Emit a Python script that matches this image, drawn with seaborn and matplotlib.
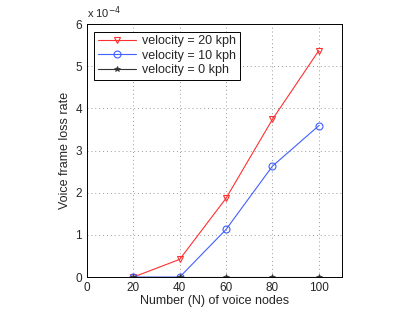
import matplotlib
matplotlib.use("Agg")
import matplotlib.pyplot as plt
import seaborn as sns
from matplotlib.ticker import FuncFormatter

# data (loss rate)
nodes = [20, 40, 60, 80, 100]
v20 = [0.0, 0.42e-4, 1.87e-4, 3.74e-4, 5.37e-4]
v10 = [0.0, 0.0, 1.13e-4, 2.63e-4, 3.59e-4]
v0 = [0.0, 0.0, 0.0, 0.0, 0.0]

sns.set_style("white")
plt.rcParams["font.family"] = ["Liberation Sans", "DejaVu Sans"]

fig = plt.figure(figsize=(4.15, 3.12), dpi=100)
ax = fig.add_axes([0.2096, 0.112, 0.6145, 0.811])

sns.lineplot(x=nodes, y=v20, color="#ff3030", marker="v", markersize=5, mfc="none",
             mec="#ff3030", mew=0.8, lw=0.8, label="velocity = 20 kph", ax=ax)
sns.lineplot(x=nodes, y=v10, color="#4060ff", marker="o", markersize=5, mfc="none",
             mec="#4060ff", mew=0.8, lw=0.8, label="velocity = 10 kph", ax=ax)
sns.lineplot(x=nodes, y=v0, color="#333333", marker="*", markersize=4,
             mec="#333333", mew=0.5, lw=0.8, label="velocity = 0 kph", ax=ax)

ax.set_xlim(0, 110)
ax.set_ylim(0, 6e-4)
ax.set_xticks([0, 20, 40, 60, 80, 100])
ax.set_yticks([i * 1e-4 for i in range(7)])
ax.yaxis.set_major_formatter(FuncFormatter(lambda v, p: f"{v / 1e-4:.0f}"))
ax.text(0.0, 1.012, r"x 10$^{-4}$", transform=ax.transAxes, fontsize=8, va="bottom")

ax.grid(True, ls=(0, (1, 3)), color="#999999", lw=0.7)
ax.tick_params(direction="in", length=3, labelsize=8.5, width=0.6)
for s in ax.spines.values():
    s.set_color("black")
    s.set_linewidth(0.7)

ax.set_xlabel("Number (N) of voice nodes", fontsize=9, labelpad=1)
ax.set_ylabel("Voice frame loss rate", fontsize=9, labelpad=3)

leg = ax.legend(loc="upper left", fontsize=9, fancybox=False, framealpha=1,
                edgecolor="black", borderaxespad=0.6, handlelength=3.0,
                labelspacing=0.2, borderpad=0.3, handletextpad=0.5)
leg.get_frame().set_linewidth(0.7)

fig.savefig("out.png", dpi=100)
